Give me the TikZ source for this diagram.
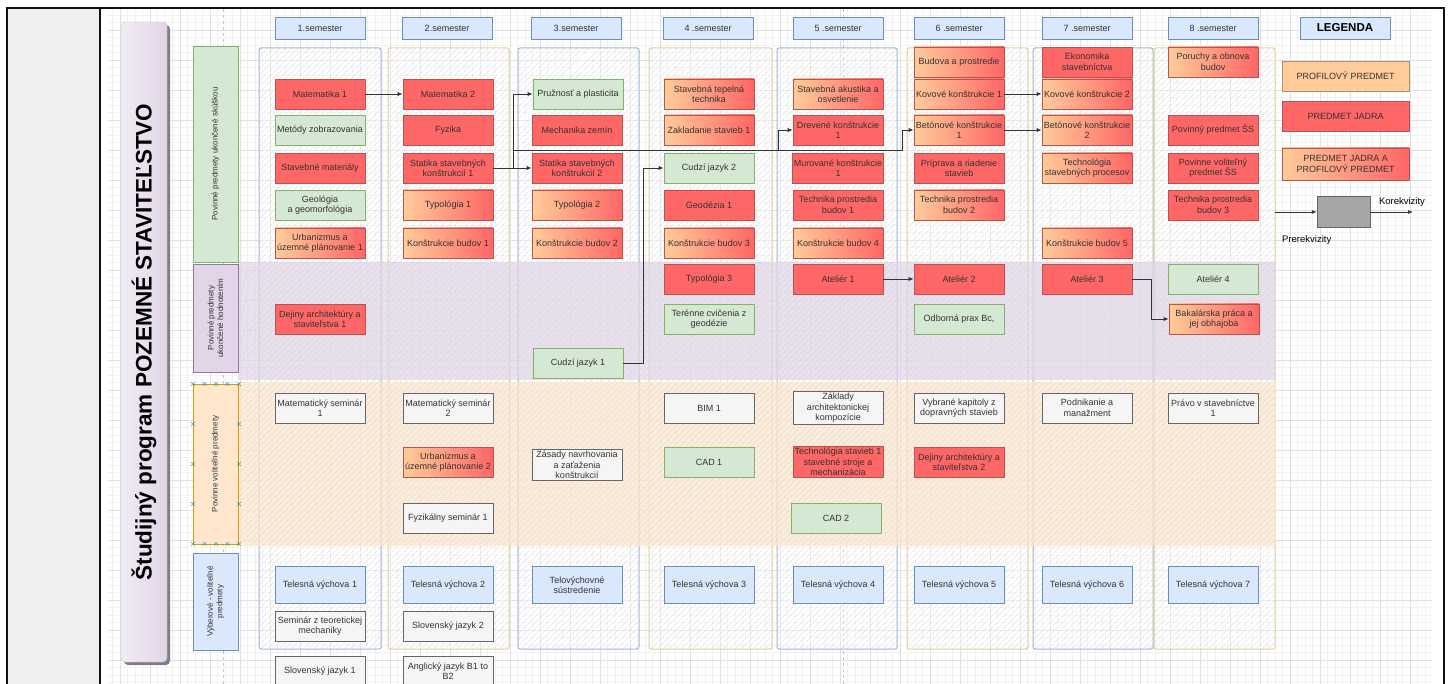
\documentclass[tikz,border=0pt]{standalone}
\usepackage{fontspec}
\setmainfont{Liberation Sans}
\usetikzlibrary{arrows.meta,patterns.meta}
\definecolor{ink}{HTML}{333333}
\definecolor{frame}{HTML}{111111}
\definecolor{cellgray}{HTML}{F0F0F0}
\definecolor{gridminor}{HTML}{F1F1F1}
\definecolor{gridmajor}{HTML}{E0E0E0}
\definecolor{jadra}{HTML}{FF6666}
\definecolor{jadraline}{HTML}{B85450}
\definecolor{profil}{HTML}{FFCC99}
\definecolor{profilline}{HTML}{B09070}
\definecolor{zelena}{HTML}{D5E8D4}
\definecolor{zelenaline}{HTML}{82B366}
\definecolor{modra}{HTML}{DAE8FC}
\definecolor{modraline}{HTML}{6C8EBF}
\definecolor{siva}{HTML}{F5F5F5}
\definecolor{sivaline}{HTML}{666666}
\definecolor{fialova}{HTML}{E1D5E7}
\definecolor{fialovaline}{HTML}{9673A6}
\definecolor{oranzova}{HTML}{FFE6CC}
\definecolor{oranzovaline}{HTML}{D79B00}
\definecolor{zlta}{HTML}{D6B656}
\definecolor{hatch}{HTML}{D8D8D8}
\definecolor{handlec}{HTML}{3AA7B5}
\definecolor{keygray}{HTML}{A6A6A6}
\tikzset{
  predmet/.style={draw,line width=0.6pt,minimum width=90pt,minimum height=30pt,
    inner sep=1.5pt,align=center,text=ink,font=\fontsize{9}{10.5}\selectfont},
  jadro/.style={predmet,draw=jadraline,fill=jadra},
  jadroprofil/.style={predmet,draw=jadraline,left color=profil,right color=jadra},
  profil/.style={predmet,draw=profilline,fill=profil},
  zeleny/.style={predmet,draw=zelenaline,fill=zelena},
  biely/.style={predmet,draw=sivaline,fill=siva},
  modry/.style={predmet,draw=modraline,fill=modra},
  telesna/.style={modry,minimum height=37pt},
  hlavicka/.style={modry,minimum height=22pt},
  riadok/.style={draw,line width=0.6pt,rotate=90,minimum height=45pt,align=center,
    text=ink,font=\fontsize{8}{9.5}\selectfont},
  titul/.style={draw=fialovaline!50,rotate=90,minimum width=640pt,minimum height=46pt,
    rounded corners=4pt,left color=fialova!45,right color=fialova,text=black,
    font=\fontsize{22.5}{26}\selectfont\bfseries},
  stlpec/.style={rounded corners=2pt,line width=1pt,
    preaction={fill=white,fill opacity=0.35},
    pattern={Lines[angle=45,distance=4pt,line width=0.3pt]},pattern color=hatch},
  pas/.style={draw=#1,draw opacity=0.7,line width=0.5pt,
    preaction={fill=#1,fill opacity=0.7},
    pattern={Lines[angle=45,distance=4pt,line width=0.3pt]},pattern color=hatch},
  spoj/.style={draw=ink,line width=0.7pt,-{Latex[length=5pt,width=4pt]}},
  handle/.style={draw=handlec,line width=0.6pt},
  pagebreak/.style={draw=gray!45,line width=0.5pt,dash pattern=on 3pt off 3pt},
  keytext/.style={text=black,font=\fontsize{9.5}{11}\selectfont}
}

\begin{document}
\begin{tikzpicture}[x=1pt,y=-1pt,text=ink]
\useasboundingbox (0,0) rectangle (1453,684);

% table cell and drawing canvas
\fill[cellgray] (7,8) rectangle (100,684);
\draw[gridminor,line width=0.4pt,step=7.5pt] (108,684) grid (1432,9);
\draw[gridmajor,line width=0.5pt,step=30pt] (108,684) grid (1432,9);
\draw[pagebreak] (223,9) -- (223,684);
\draw[pagebreak] (843,9) -- (843,684);

\foreach \a/\b/\farba in {259/381/modraline, 388/509/zlta, 518/639/modraline,
  649/772/zlta, 777/897/modraline, 907/1028/zlta, 1033/1153/modraline, 1154/1275/zlta}
  \draw[stlpec,draw=\farba!65] (\a,48) rectangle (\b,649);

\draw[pas=fialova] (238,262) rectangle (1275,379);
\draw[pas=oranzova] (238,382) rectangle (1275,545);

\fill[black!50,rounded corners=4pt] (124,25) rectangle (170,665);
\node[titul] (titul) at (144,342) {Študijný program POZEMNÉ STAVITEĽSTVO};

\node[riadok,draw=zelenaline,fill=zelena,minimum width=216pt] (r1) at (215.5,154)
  {Povinné predmety ukončené skúškou};
\node[riadok,draw=fialovaline,fill=fialova,minimum width=108pt] (r2) at (215.5,318)
  {Povinné predmety\\ukončené hodnotením};
\node[riadok,draw=oranzovaline,fill=oranzova,minimum width=160pt] (r3) at (215.5,464)
  {Povinne voliteľné predmety};
\node[riadok,draw=modraline,fill=modra,minimum width=97pt] (r4) at (215.5,601.5)
  {Výberové - voliteľné\\predmety};
\foreach \hx/\hy in {193/384,204.5/384,216/384,227.5/384,239/384,
  193/544,204.5/544,216/544,227.5/544,239/544,
  193/424,193/464,193/504,239/424,239/464,239/504}
  \draw[handle] (\hx-1.8,\hy-1.8) -- (\hx+1.8,\hy+1.8) (\hx-1.8,\hy+1.8) -- (\hx+1.8,\hy-1.8);

\foreach \i/\x/\nazov in {1/320/1.semester, 2/447/2.semester, 3/576/3.semester,
  4/708/4 .semester, 5/838/5 .semester, 6/959/6 .semester, 7/1087/7 .semester,
  8/1213/8 .semester}
  \node[hlavicka] (sem\i) at (\x,28) {\nazov};

% 1. semester
\node[jadro] (mat1) at (320,94) {Matematika 1};
\node[zeleny] (metody) at (320,130) {Metódy zobrazovania};
\node[jadro] (stmat) at (320,168) {Stavebné materiály};
\node[zeleny] (geol) at (320,205) {Geológia\\a geomorfológia};
\node[jadroprofil] (urb1) at (320,243) {Urbanizmus a\\územné plánovanie 1};
\node[jadro] (dej1) at (320,319) {Dejiny architektúry a\\staviteľstva 1};
\node[biely] (msem1) at (320,408) {Matematický seminár\\1};
\node[telesna] (tv1) at (320,585) {Telesná výchova 1};
\node[biely] (stm) at (320,626) {Seminár z teoretickej\\mechaniky};
\node[biely] (sj1) at (320,671) {Slovenský jazyk 1};

% 2. semester
\node[jadro] (mat2) at (448,94) {Matematika 2};
\node[jadro] (fyz) at (448,130) {Fyzika};
\node[jadro] (stat1) at (448,168) {Statika stavebných\\konštrukcií 1};
\node[jadroprofil] (typ1) at (448,205) {Typológia 1};
\node[jadroprofil] (kb1) at (448,243) {Konštrukcie budov 1};
\node[biely] (msem2) at (448,408) {Matematický seminár\\2};
\node[jadroprofil] (urb2) at (448,462) {Urbanizmus a\\územné plánovanie 2};
\node[biely] (fsem) at (448,518) {Fyzikálny seminár 1};
\node[telesna] (tv2) at (448,585) {Telesná výchova 2};
\node[biely] (sj2) at (448,626) {Slovenský jazyk 2};
\node[biely] (aj) at (448,671) {Anglický jazyk B1 to\\B2};

% 3. semester
\node[zeleny] (pruz) at (578,94) {Pružnosť a plasticita};
\node[jadro] (mech) at (577,130) {Mechanika zemín};
\node[jadro] (stat2) at (577,168) {Statika stavebných\\konštrukcií 2};
\node[jadroprofil] (typ2) at (577,205) {Typológia 2};
\node[jadroprofil] (kb2) at (577,243) {Konštrukcie budov 2};
\node[zeleny] (cj1) at (578,363) {Cudzí jazyk 1};
\node[biely] (zasady) at (577,465) {Zásady navrhovania\\a zaťaženia\\konštrukcií};
\node[telesna] (tvs) at (577,585) {Telovýchovné\\sústredenie};

% 4. semester
\node[jadroprofil] (tep) at (709,94) {Stavebná tepelná\\technika};
\node[jadroprofil] (zakl) at (709,130) {Zakladanie stavieb 1};
\node[zeleny] (cj2) at (709,168) {Cudzí jazyk 2};
\node[jadro] (geod) at (709,205) {Geodézia 1};
\node[jadroprofil] (kb3) at (709,243) {Konštrukcie budov 3};
\node[jadro] (typ3) at (709,279) {Typológia 3};
\node[zeleny] (ter) at (709,319) {Terénne cvičenia z\\geodézie};
\node[biely] (bim) at (709,408) {BIM 1};
\node[zeleny] (cad1) at (709,462) {CAD 1};
\node[telesna] (tv3) at (709,585) {Telesná výchova 3};

% 5. semester
\node[jadroprofil] (akus) at (838,94) {Stavebná akustika a\\osvetlenie};
\node[jadro] (drev1) at (838,130) {Drevené konštrukcie\\1};
\node[jadro] (mur1) at (838,168) {Murované konštrukcie\\1};
\node[jadro] (tpb1) at (838,205) {Technika prostredia\\budov 1};
\node[jadroprofil] (kb4) at (838,243) {Konštrukcie budov 4};
\node[jadro] (atel1) at (838,279) {Ateliér 1};
\node[biely] (zakar) at (838,408) {Základy\\architektonickej\\kompozície};
\node[jadro] (tech1) at (838,462) {Technológia stavieb 1\\stavebné stroje a\\mechanizácia};
\node[zeleny] (cad2) at (836,518) {CAD 2};
\node[telesna] (tv4) at (838,585) {Telesná výchova 4};

% 6. semester
\node[jadroprofil] (bud) at (959,62) {Budova a prostredie};
\node[jadroprofil] (kov1) at (959,94) {Kovové konštrukcie 1};
\node[jadroprofil] (bet1) at (959,130) {Betónové konštrukcie\\1};
\node[jadro] (prip) at (959,168) {Príprava a riadenie\\stavieb};
\node[jadroprofil] (tpb2) at (959,205) {Technika prostredia\\budov 2};
\node[jadro] (atel2) at (959,279) {Ateliér 2};
\node[zeleny] (prax) at (959,319) {Odborná prax Bc,};
\node[biely] (vybr) at (959,408) {Vybrané kapitoly z\\dopravných stavieb};
\node[jadro] (dej2) at (959,462) {Dejiny architektúry a\\staviteľstva 2};
\node[telesna] (tv5) at (959,585) {Telesná výchova 5};

% 7. semester
\node[jadro] (ekon) at (1087,62) {Ekonomika\\stavebníctva};
\node[jadroprofil] (kov2) at (1087,94) {Kovové konštrukcie 2};
\node[jadroprofil] (bet2) at (1087,130) {Betónové konštrukcie\\2};
\node[jadroprofil] (tsp) at (1087,168) {Technológia\\stavebných procesov};
\node[jadroprofil] (kb5) at (1087,243) {Konštrukcie budov 5};
\node[jadro] (atel3) at (1087,279) {Ateliér 3};
\node[biely] (podn) at (1087,408) {Podnikanie a\\manažment};
\node[telesna] (tv6) at (1087,585) {Telesná výchova 6};

% 8. semester
\node[jadroprofil] (por) at (1213,62) {Poruchy a obnova\\budov};
\node[jadro] (pps) at (1213,130) {Povinný predmet ŠS};
\node[jadro] (pvps) at (1213,168) {Povinne voliteľný\\predmet ŠS};
\node[jadro] (tpb3) at (1213,205) {Technika prostredia\\budov 3};
\node[zeleny] (atel4) at (1213,279) {Ateliér 4};
\node[jadroprofil] (bak) at (1214,319) {Bakalárska práca a\\jej obhajoba};
\node[biely] (pravo) at (1213,408) {Právo v stavebníctve\\1};
\node[telesna] (tv7) at (1213,585) {Telesná výchova 7};

% legenda
\node[hlavicka,text=black,font=\fontsize{11.5}{13}\selectfont\bfseries] (leg) at (1345,28) {LEGENDA};
\node[profil,minimum width=127pt,font=\fontsize{9}{11}\selectfont] (lprofil) at (1345.5,76) {PROFILOVÝ PREDMET};
\node[jadro,minimum width=127pt,font=\fontsize{9}{11}\selectfont] (ljadro) at (1345.5,116) {PREDMET JADRA};
\node[jadroprofil,minimum width=127pt,minimum height=32pt,font=\fontsize{9}{11}\selectfont] (lobe) at (1345.5,164)
  {PREDMET JADRA A\\PROFILOVÝ PREDMET};
\node[draw=sivaline,fill=keygray,minimum width=53pt,minimum height=31pt] (kluc) at (1343.5,212) {};
\coordinate (prereq) at (1275,212);
\coordinate (koreq) at (1413,212);
\draw[spoj] (prereq) -- (kluc);
\draw[spoj] (kluc) -- (koreq);
\node[keytext,anchor=west,inner sep=0pt] (lpre) at (1282,240) {Prerekvizity};
\node[keytext,inner sep=0pt] (lko) at (1402,202) {Korekvizity};

\draw[spoj] (mat1) -- (mat2);
\draw[spoj] (stat1) -- (stat2);
\draw[spoj] (stat1.east) -- ++(20,0) |- (pruz.west);
\draw[spoj] (stat1.east) -- ++(20,0) -- ++(0,-18) -| ([xshift=-14pt]drev1.west) -- (drev1.west);
\draw[spoj] (stat1.east) -- ++(20,0) -- ++(0,-18) -| ([xshift=-11pt]bet1.west) -- (bet1.west);
\draw[spoj] (cj1.east) -- ++(20,0) |- (cj2.west);
\draw[spoj] (atel1) -- (atel2);
\draw[spoj] (kov1) -- (kov2);
\draw[spoj] (bet1) -- (bet2);
\draw[spoj] (atel3.east) -- ++(19,0) |- (bak.west);

\draw[frame,line width=2pt] (7,684) -- (7,8) -- (1444,8) -- (1444,684);
\draw[frame,line width=2pt] (100,8) -- (100,684);

\end{tikzpicture}
\end{document}
